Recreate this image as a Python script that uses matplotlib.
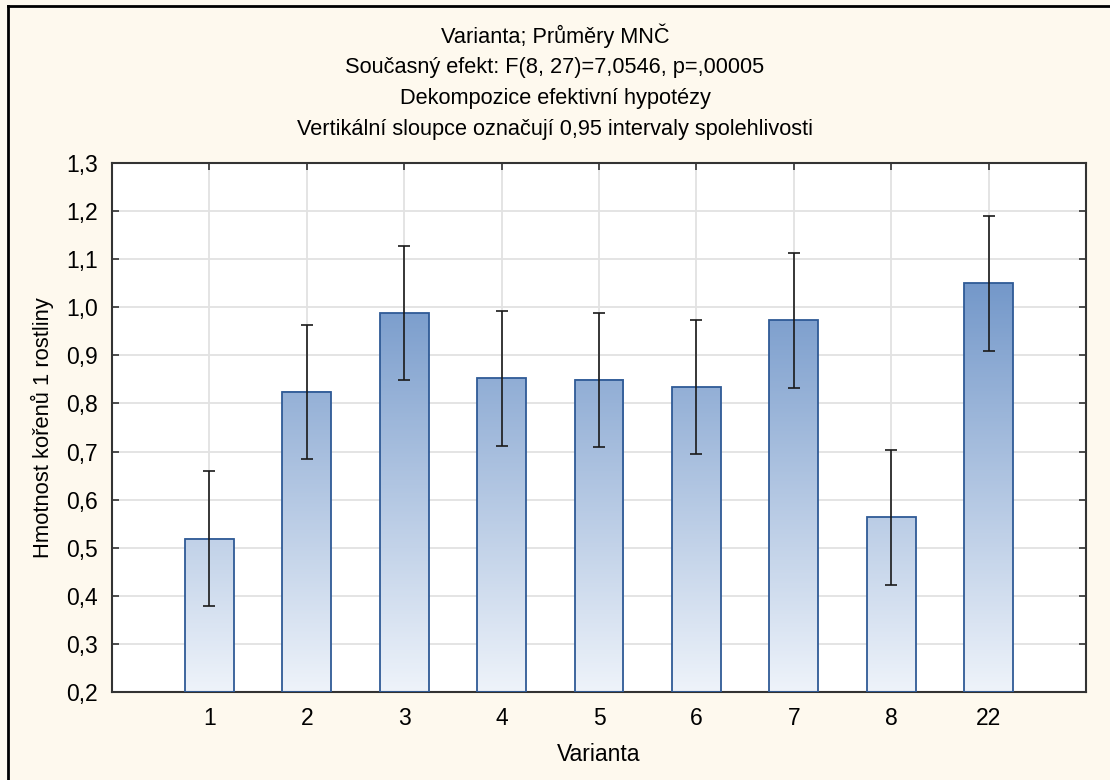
import numpy as np
import matplotlib.pyplot as plt
from matplotlib.colors import LinearSegmentedColormap, Normalize
from matplotlib.lines import Line2D

plt.rcParams['font.family'] = ['Liberation Sans', 'DejaVu Sans']

categories = ['1', '2', '3', '4', '5', '6', '7', '8', '22']
means = [0.519, 0.824, 0.988, 0.852, 0.849, 0.834, 0.973, 0.563, 1.050]
ci_half = [0.140, 0.140, 0.140, 0.140, 0.140, 0.140, 0.140, 0.140, 0.140]

title_lines = ['Varianta; Průměry MNČ',
               'Současný efekt: F(8, 27)=7,0546, p=,00005',
               'Dekompozice efektivní hypotézy',
               'Vertikální sloupce označují 0,95 intervaly spolehlivosti']

bg = '#fef9ee'
fig = plt.figure(figsize=(11.1, 7.8), dpi=100, facecolor=bg)
ax = fig.add_axes([112/1110, 1-692/780, 974/1110, 529/780])

# frame around the figure (left and top only visible)
fig.add_artist(Line2D([8/1110, 8/1110], [0, 1-6/780], transform=fig.transFigure, color='black', lw=2))
fig.add_artist(Line2D([8/1110, 1], [1-6/780, 1-6/780], transform=fig.transFigure, color='black', lw=2))

x = np.arange(1, len(categories)+1)
width = 0.5
ymin, ymax = 0.2, 1.3

cmap = LinearSegmentedColormap.from_list('grad', ['#eef3fa', '#6d93c7'])
norm = Normalize(vmin=0.2, vmax=1.1)
grad = np.linspace(0, 1, 256).reshape(-1, 1)

bars = ax.bar(x, np.array(means)-ymin, bottom=ymin, width=width, facecolor='none',
              edgecolor='#2f5a96', linewidth=1.3, zorder=3)
for xi, m in zip(x, means):
    vals = ymin + grad*(m-ymin)
    ax.imshow(vals, cmap=cmap, norm=norm, origin='lower', aspect='auto',
              extent=[xi-width/2, xi+width/2, ymin, m], zorder=2, interpolation='bicubic')

ax.errorbar(x, means, yerr=ci_half, fmt='none', ecolor='#1a1a1a', elinewidth=1.2,
            capsize=4, capthick=1.2, zorder=4)

ax.set_xlim(0, len(categories)+1)
ax.set_ylim(ymin, ymax)
ax.set_xticks(x)
ax.set_xticklabels(categories)
yt = np.round(np.arange(0.2, 1.31, 0.1), 1)
ax.set_yticks(yt)
ax.set_yticklabels([f'{v:.1f}'.replace('.', ',') for v in yt])
ax.grid(True, color='#e2e2e2', lw=1.3, zorder=0)
ax.set_axisbelow(True)
ax.tick_params(direction='in', length=5, width=1.2, color='#333333', labelsize=16.5,
               top=True, right=True)
ax.tick_params(axis='y', pad=10)
ax.tick_params(axis='x', pad=11)
for s in ax.spines.values():
    s.set_color('#333333')
    s.set_linewidth(1.5)

ax.set_xlabel('Varianta', fontsize=16.5, labelpad=9)
ax.set_ylabel('Hmotnost kořenů 1 rostliny', fontsize=15.8, labelpad=9)

for i, t in enumerate(title_lines):
    fig.text(0.5, 1-(36+31.3*i)/780, t, ha='center', va='center', fontsize=15.7)

fig.savefig('out.png', dpi=100, facecolor=bg)
